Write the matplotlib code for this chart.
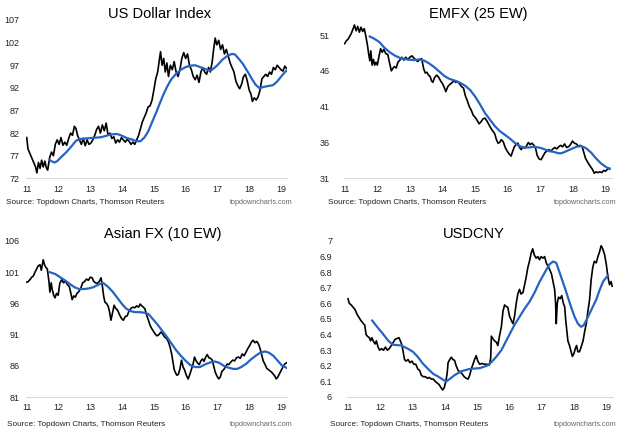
import numpy as np
import matplotlib
matplotlib.use("Agg")
import matplotlib.pyplot as plt

plt.rcParams['font.family'] = ['Liberation Sans', 'DejaVu Sans']

# ---- data (year as decimal, value) ----
dxy_px = [(11.0, 81.0), (11.04, 78.5), (11.1, 77.5), (11.16, 76.5), (11.22, 75.5), (11.28, 74.5),
          (11.32, 73.2), (11.37, 75.5), (11.42, 74.2), (11.47, 76.0), (11.52, 74.5), (11.57, 75.8),
          (11.62, 74.3), (11.66, 73.8), (11.72, 76.5), (11.78, 77.8), (11.84, 77.0), (11.9, 79.5),
          (11.96, 80.5), (12.02, 79.5), (12.08, 81.0), (12.14, 79.3), (12.2, 80.0), (12.26, 79.3),
          (12.32, 80.8), (12.38, 82.0), (12.44, 81.5), (12.5, 83.5), (12.55, 83.0), (12.6, 81.5),
          (12.66, 80.5), (12.72, 79.5), (12.78, 80.8), (12.84, 79.2), (12.9, 80.5), (12.96, 79.5),
          (13.02, 79.8), (13.08, 80.5), (13.14, 81.5), (13.2, 82.8), (13.26, 83.5), (13.32, 82.0),
          (13.38, 83.8), (13.44, 82.5), (13.5, 84.2), (13.56, 81.5), (13.62, 82.0), (13.68, 80.8),
          (13.74, 81.2), (13.8, 79.8), (13.86, 80.5), (13.92, 80.0), (13.98, 81.0), (14.04, 80.5),
          (14.1, 80.0), (14.16, 80.6), (14.22, 80.2), (14.28, 79.5), (14.34, 80.0), (14.4, 79.5),
          (14.46, 80.5), (14.52, 81.5), (14.58, 83.0), (14.64, 84.5), (14.7, 85.5), (14.76, 86.5),
          (14.82, 87.8), (14.88, 88.0), (14.94, 89.2), (15.0, 91.5), (15.06, 94.0), (15.12, 95.5),
          (15.17, 98.0), (15.21, 100.0), (15.26, 97.0), (15.31, 98.5), (15.36, 95.5), (15.41, 97.5),
          (15.46, 94.5), (15.52, 97.0), (15.58, 96.0), (15.64, 97.8), (15.7, 95.5), (15.76, 94.5),
          (15.82, 96.0), (15.88, 98.5), (15.94, 99.8), (16.0, 98.5), (16.06, 99.5), (16.12, 97.0),
          (16.18, 96.0), (16.24, 94.5), (16.3, 93.8), (16.36, 94.8), (16.42, 93.2), (16.48, 95.5),
          (16.54, 96.5), (16.6, 95.5), (16.66, 95.0), (16.72, 96.5), (16.78, 95.5), (16.84, 98.0),
          (16.88, 100.5), (16.93, 103.0), (16.98, 101.5), (17.04, 102.5), (17.1, 100.5), (17.16, 101.5),
          (17.22, 99.5), (17.28, 100.5), (17.34, 99.0), (17.4, 97.5), (17.46, 96.5), (17.52, 95.5),
          (17.58, 93.5), (17.64, 92.5), (17.7, 91.8), (17.76, 92.8), (17.82, 94.5), (17.88, 95.0),
          (17.94, 93.5), (18.0, 91.5), (18.06, 90.5), (18.1, 89.0), (18.16, 89.8), (18.22, 89.3),
          (18.28, 90.0), (18.34, 91.5), (18.4, 94.0), (18.46, 94.5), (18.52, 95.0), (18.58, 94.5),
          (18.64, 95.5), (18.7, 95.0), (18.76, 96.5), (18.82, 96.0), (18.88, 97.0), (18.94, 96.5),
          (19.0, 96.0), (19.06, 95.7), (19.12, 96.8), (19.17, 96.3)]
dxy_ma = [(11.73, 76.0), (11.8, 75.7), (11.88, 75.5), (11.96, 75.8), (12.1, 76.8), (12.25, 77.8),
          (12.4, 79.0), (12.55, 80.3), (12.68, 80.7), (12.85, 80.8), (13.0, 80.9), (13.2, 81.0),
          (13.35, 81.1), (13.5, 81.4), (13.65, 81.7), (13.85, 81.8), (14.0, 81.4), (14.15, 80.9),
          (14.3, 80.6), (14.45, 80.2), (14.58, 80.2), (14.7, 81.0), (14.82, 82.3), (14.95, 84.5),
          (15.1, 87.0), (15.2, 88.8), (15.3, 90.5), (15.42, 92.3), (15.55, 93.9), (15.7, 95.1),
          (15.85, 96.0), (16.0, 96.6), (16.15, 96.9), (16.3, 97.0), (16.45, 96.6), (16.6, 96.2),
          (16.75, 95.8), (16.85, 96.1), (17.0, 97.0), (17.15, 98.2), (17.3, 99.0), (17.45, 99.5),
          (17.55, 99.4), (17.65, 98.6), (17.8, 97.3), (17.95, 95.6), (18.1, 93.8), (18.2, 92.7),
          (18.33, 91.9), (18.45, 92.2), (18.6, 92.4), (18.75, 92.6), (18.85, 93.2), (18.95, 94.0),
          (19.05, 94.9), (19.17, 95.8)]

emfx_px = [(11.0, 49.8), (11.05, 50.2), (11.1, 50.4), (11.15, 50.8), (11.2, 51.2), (11.25, 51.8),
           (11.3, 52.4), (11.35, 51.6), (11.4, 52.2), (11.45, 51.4), (11.5, 52.1), (11.55, 51.5),
           (11.6, 51.9), (11.65, 50.8), (11.7, 49.5), (11.73, 48.5), (11.77, 47.4), (11.8, 48.8),
           (11.84, 46.8), (11.88, 47.6), (11.92, 46.8), (11.96, 47.2), (12.0, 46.8), (12.05, 48.0),
           (12.1, 49.1), (12.15, 48.6), (12.2, 49.0), (12.26, 48.4), (12.32, 48.3), (12.38, 47.0),
           (12.43, 46.0), (12.47, 46.3), (12.52, 46.6), (12.58, 46.4), (12.63, 47.2), (12.69, 47.5),
           (12.75, 47.9), (12.81, 47.5), (12.87, 47.9), (12.93, 47.6), (13.0, 47.9), (13.06, 48.1),
           (13.12, 47.8), (13.18, 47.5), (13.24, 47.3), (13.3, 47.6), (13.36, 47.7), (13.42, 46.3),
           (13.47, 45.7), (13.52, 45.8), (13.57, 45.4), (13.62, 45.2), (13.66, 44.6), (13.7, 44.4),
           (13.76, 45.1), (13.82, 45.4), (13.88, 45.1), (13.94, 44.6), (14.0, 44.2), (14.06, 43.6),
           (14.1, 43.1), (14.16, 43.8), (14.22, 44.1), (14.28, 44.3), (14.34, 44.6), (14.4, 44.4),
           (14.46, 44.5), (14.52, 44.2), (14.58, 43.8), (14.64, 43.6), (14.7, 42.5), (14.76, 41.8),
           (14.82, 41.0), (14.88, 40.5), (14.94, 39.8), (15.0, 39.5), (15.06, 39.1), (15.12, 38.6),
           (15.18, 38.9), (15.24, 39.3), (15.3, 39.4), (15.36, 39.0), (15.42, 38.5), (15.48, 38.0),
           (15.54, 37.6), (15.6, 37.2), (15.65, 36.4), (15.7, 35.9), (15.75, 36.0), (15.8, 36.4),
           (15.86, 36.1), (15.92, 35.3), (15.98, 34.8), (16.04, 34.4), (16.1, 34.1), (16.15, 34.8),
           (16.2, 35.4), (16.26, 35.8), (16.31, 35.9), (16.36, 35.3), (16.41, 35.0), (16.46, 35.4),
           (16.52, 35.2), (16.57, 35.5), (16.63, 36.0), (16.68, 35.7), (16.74, 35.9), (16.8, 35.6),
           (16.85, 35.2), (16.9, 34.2), (16.96, 33.7), (17.02, 33.6), (17.08, 34.1), (17.14, 34.6),
           (17.2, 34.8), (17.26, 35.0), (17.32, 34.8), (17.38, 35.1), (17.44, 35.3), (17.5, 35.1),
           (17.56, 35.4), (17.62, 35.6), (17.68, 35.4), (17.74, 35.8), (17.8, 35.3), (17.86, 35.4),
           (17.92, 35.7), (17.98, 36.2), (18.04, 35.9), (18.1, 35.8), (18.16, 35.5), (18.22, 35.6),
           (18.28, 35.4), (18.33, 34.6), (18.38, 33.8), (18.43, 33.4), (18.48, 33.0), (18.54, 32.6),
           (18.6, 32.2), (18.65, 31.7), (18.7, 31.9), (18.76, 31.8), (18.82, 31.9), (18.88, 31.8),
           (18.94, 32.1), (19.0, 32.0), (19.06, 32.3), (19.12, 32.4)]
emfx_ma = [(11.77, 50.8), (11.9, 50.5), (12.07, 50.0), (12.2, 49.3), (12.38, 48.6), (12.55, 48.1),
           (12.7, 47.8), (12.9, 47.6), (13.1, 47.5), (13.3, 47.6), (13.45, 47.4), (13.6, 47.0),
           (13.75, 46.5), (13.9, 45.9), (14.05, 45.3), (14.2, 44.9), (14.4, 44.6), (14.55, 44.3),
           (14.7, 43.9), (14.85, 43.3), (15.0, 42.4), (15.15, 41.3), (15.3, 40.1), (15.45, 39.2),
           (15.6, 38.3), (15.75, 37.6), (15.9, 37.1), (16.05, 36.6), (16.2, 36.0), (16.35, 35.5),
           (16.5, 35.3), (16.65, 35.3), (16.8, 35.4), (16.95, 35.3), (17.1, 35.1), (17.25, 34.8),
           (17.4, 34.7), (17.55, 34.5), (17.65, 34.5), (17.8, 34.8), (17.95, 35.1), (18.1, 35.4),
           (18.25, 35.5), (18.4, 35.2), (18.55, 34.6), (18.7, 33.8), (18.85, 33.1), (19.0, 32.6),
           (19.12, 32.3)]

asia_px = [(11.0, 99.4), (11.05, 99.5), (11.1, 99.8), (11.16, 100.2), (11.21, 100.4), (11.26, 101.0),
           (11.31, 101.5), (11.36, 102.0), (11.42, 102.2), (11.46, 101.3), (11.52, 103.0), (11.56, 102.2),
           (11.6, 101.8), (11.65, 101.5), (11.7, 99.5), (11.73, 97.8), (11.77, 99.3), (11.8, 98.3),
           (11.85, 97.3), (11.89, 96.9), (11.94, 97.6), (11.99, 97.3), (12.04, 99.2), (12.1, 99.8),
           (12.16, 99.3), (12.22, 99.6), (12.28, 99.0), (12.34, 98.7), (12.39, 97.6), (12.43, 96.6),
           (12.48, 97.2), (12.53, 97.0), (12.58, 97.6), (12.64, 97.9), (12.7, 98.4), (12.76, 99.3),
           (12.82, 99.5), (12.88, 99.9), (12.94, 99.7), (13.0, 100.2), (13.06, 100.1), (13.1, 99.6),
           (13.16, 99.3), (13.22, 99.2), (13.28, 99.5), (13.34, 100.1), (13.38, 98.8), (13.42, 97.2),
           (13.46, 96.2), (13.51, 96.0), (13.56, 95.6), (13.6, 94.8), (13.65, 93.3), (13.7, 94.5),
           (13.75, 95.7), (13.8, 95.2), (13.86, 94.9), (13.92, 94.2), (13.98, 93.6), (14.04, 93.3),
           (14.1, 93.9), (14.16, 94.0), (14.22, 94.8), (14.28, 95.2), (14.34, 95.4), (14.4, 95.3),
           (14.46, 95.6), (14.52, 95.4), (14.57, 95.9), (14.62, 95.6), (14.67, 95.4), (14.72, 95.1),
           (14.78, 94.0), (14.83, 93.3), (14.88, 92.5), (14.93, 92.0), (14.98, 91.6), (15.04, 91.1),
           (15.1, 90.8), (15.16, 91.0), (15.22, 91.4), (15.28, 91.1), (15.34, 90.6), (15.4, 90.4),
           (15.46, 89.8), (15.51, 89.0), (15.56, 87.9), (15.6, 86.6), (15.64, 85.4), (15.68, 84.9),
           (15.72, 84.5), (15.77, 84.6), (15.82, 85.5), (15.87, 86.9), (15.92, 85.8), (15.97, 85.3),
           (16.02, 84.5), (16.08, 83.9), (16.13, 84.6), (16.18, 85.4), (16.23, 86.2), (16.28, 87.4),
           (16.33, 86.8), (16.38, 86.4), (16.43, 86.2), (16.48, 86.8), (16.53, 87.1), (16.58, 86.7),
           (16.63, 87.4), (16.68, 87.8), (16.73, 87.3), (16.78, 87.2), (16.84, 86.9), (16.88, 86.0),
           (16.93, 85.0), (16.98, 84.4), (17.04, 83.9), (17.09, 84.2), (17.14, 85.1), (17.2, 85.4),
           (17.26, 85.9), (17.31, 86.3), (17.36, 86.2), (17.42, 86.6), (17.48, 86.9), (17.54, 86.8),
           (17.6, 87.3), (17.66, 87.4), (17.72, 87.2), (17.78, 87.9), (17.84, 87.6), (17.9, 88.2),
           (17.96, 88.8), (18.02, 89.3), (18.07, 89.8), (18.12, 90.1), (18.18, 89.7), (18.24, 89.9),
           (18.3, 89.4), (18.35, 88.6), (18.4, 87.6), (18.44, 86.8), (18.5, 86.2), (18.55, 85.6),
           (18.6, 85.4), (18.65, 85.2), (18.7, 85.0), (18.75, 84.7), (18.8, 84.4), (18.85, 83.9),
           (18.9, 84.2), (18.96, 84.8), (19.02, 85.4), (19.07, 85.9), (19.12, 86.3), (19.18, 86.5)]
asia_ma = [(11.73, 101.0), (11.9, 100.7), (12.05, 100.2), (12.2, 99.7), (12.36, 99.1), (12.5, 98.6),
           (12.65, 98.3), (12.8, 98.3), (12.95, 98.4), (13.1, 98.6), (13.25, 99.0), (13.4, 99.3),
           (13.55, 98.7), (13.7, 97.9), (13.85, 96.9), (14.0, 95.9), (14.12, 95.2), (14.25, 94.8),
           (14.4, 94.6), (14.56, 94.6), (14.7, 94.5), (14.83, 94.3), (14.95, 93.6), (15.1, 92.7),
           (15.25, 91.7), (15.4, 90.7), (15.55, 89.6), (15.7, 88.5), (15.85, 87.6), (16.0, 86.8),
           (16.15, 86.1), (16.3, 85.8), (16.45, 85.8), (16.6, 86.2), (16.75, 86.5), (16.9, 86.7),
           (17.05, 86.5), (17.2, 86.0), (17.35, 85.7), (17.5, 85.5), (17.62, 85.5), (17.75, 85.8),
           (17.9, 86.3), (18.05, 87.0), (18.2, 87.6), (18.35, 88.1), (18.5, 88.3), (18.62, 88.1),
           (18.76, 87.6), (18.9, 86.8), (19.02, 86.1), (19.2, 85.6)]

cny_px = [(11.0, 6.63), (11.04, 6.6), (11.1, 6.59), (11.16, 6.575), (11.22, 6.56), (11.28, 6.53),
          (11.34, 6.51), (11.4, 6.49), (11.46, 6.475), (11.52, 6.46), (11.56, 6.4), (11.6, 6.39),
          (11.66, 6.38), (11.7, 6.36), (11.74, 6.38), (11.78, 6.36), (11.84, 6.34), (11.88, 6.36),
          (11.93, 6.32), (11.98, 6.3), (12.04, 6.31), (12.1, 6.3), (12.16, 6.32), (12.22, 6.3),
          (12.28, 6.31), (12.34, 6.33), (12.4, 6.35), (12.46, 6.37), (12.52, 6.375), (12.58, 6.38),
          (12.62, 6.36), (12.66, 6.34), (12.7, 6.3), (12.75, 6.24), (12.8, 6.23), (12.86, 6.24),
          (12.92, 6.22), (12.98, 6.23), (13.04, 6.21), (13.1, 6.21), (13.16, 6.18), (13.22, 6.17),
          (13.27, 6.14), (13.33, 6.13), (13.4, 6.13), (13.46, 6.12), (13.52, 6.125), (13.58, 6.115),
          (13.64, 6.115), (13.7, 6.1), (13.76, 6.09), (13.82, 6.08), (13.88, 6.06), (13.93, 6.045),
          (13.98, 6.06), (14.03, 6.1), (14.07, 6.15), (14.1, 6.22), (14.15, 6.24), (14.2, 6.255),
          (14.25, 6.24), (14.3, 6.235), (14.35, 6.2), (14.41, 6.17), (14.47, 6.16), (14.53, 6.15),
          (14.6, 6.13), (14.66, 6.12), (14.72, 6.115), (14.77, 6.14), (14.82, 6.18), (14.87, 6.21),
          (14.92, 6.24), (14.97, 6.265), (15.02, 6.23), (15.08, 6.21), (15.15, 6.215), (15.22, 6.21),
          (15.3, 6.21), (15.38, 6.205), (15.42, 6.25), (15.44, 6.39), (15.5, 6.37), (15.54, 6.36),
          (15.6, 6.35), (15.64, 6.33), (15.7, 6.4), (15.75, 6.45), (15.8, 6.55), (15.85, 6.59),
          (15.9, 6.58), (15.95, 6.575), (16.0, 6.52), (16.06, 6.49), (16.11, 6.47), (16.16, 6.52),
          (16.21, 6.6), (16.26, 6.66), (16.31, 6.69), (16.36, 6.66), (16.42, 6.67), (16.47, 6.72),
          (16.52, 6.77), (16.57, 6.83), (16.62, 6.87), (16.67, 6.92), (16.72, 6.95), (16.77, 6.91),
          (16.83, 6.89), (16.88, 6.9), (16.93, 6.88), (16.98, 6.9), (17.04, 6.89), (17.09, 6.9),
          (17.14, 6.86), (17.19, 6.84), (17.24, 6.82), (17.3, 6.79), (17.35, 6.74), (17.4, 6.69),
          (17.43, 6.6), (17.45, 6.47), (17.48, 6.6), (17.52, 6.64), (17.57, 6.63), (17.62, 6.65),
          (17.67, 6.6), (17.71, 6.58), (17.74, 6.5), (17.77, 6.44), (17.81, 6.36), (17.86, 6.33),
          (17.91, 6.29), (17.95, 6.26), (18.0, 6.28), (18.04, 6.31), (18.08, 6.33), (18.12, 6.29),
          (18.17, 6.29), (18.22, 6.32), (18.28, 6.36), (18.33, 6.42), (18.38, 6.47), (18.43, 6.55),
          (18.48, 6.62), (18.53, 6.75), (18.58, 6.83), (18.63, 6.87), (18.69, 6.86), (18.74, 6.9),
          (18.79, 6.93), (18.84, 6.97), (18.89, 6.95), (18.95, 6.91), (19.0, 6.85), (19.05, 6.77),
          (19.1, 6.72), (19.15, 6.74), (19.18, 6.71)]
cny_ma = [(11.75, 6.49), (11.9, 6.45), (12.08, 6.405), (12.25, 6.36), (12.39, 6.335), (12.5, 6.333),
          (12.65, 6.33), (12.85, 6.31), (13.01, 6.29), (13.15, 6.26), (13.32, 6.214), (13.48, 6.18),
          (13.63, 6.15), (13.8, 6.13), (13.95, 6.11), (14.04, 6.1), (14.15, 6.115), (14.3, 6.14),
          (14.51, 6.165), (14.77, 6.18), (15.08, 6.185), (15.3, 6.2), (15.45, 6.225), (15.6, 6.26),
          (15.75, 6.3), (15.9, 6.36), (16.0, 6.4), (16.15, 6.46), (16.31, 6.513), (16.45, 6.56),
          (16.62, 6.61), (16.78, 6.67), (16.93, 6.737), (17.1, 6.8), (17.24, 6.85), (17.35, 6.868),
          (17.45, 6.86), (17.6, 6.77), (17.7, 6.71), (17.81, 6.64), (17.92, 6.57), (18.02, 6.513),
          (18.12, 6.47), (18.22, 6.45), (18.3, 6.46), (18.4, 6.5), (18.58, 6.577), (18.7, 6.63),
          (18.79, 6.684), (18.9, 6.74), (19.05, 6.78)]

titles = ["US Dollar Index", "EMFX (25 EW)", "Asian FX (10 EW)", "USDCNY"]
yticks = [[72, 77, 82, 87, 92, 97, 102, 107],
          [31, 36, 41, 46, 51],
          [81, 86, 91, 96, 101, 106],
          [6.0, 6.1, 6.2, 6.3, 6.4, 6.5, 6.6, 6.7, 6.8, 6.9, 7.0]]
xticks = list(range(11, 20))
source = "Source: Topdown Charts, Thomson Reuters"
site = "topdowncharts.com"

W, H = 626, 434
fig = plt.figure(figsize=(W / 100, H / 100), dpi=100)

# pixel layout: (x of "11", x of "19", top px, bottom px, ymin, ymax, ytick pad px)
layout = [
    (26.7, 281.0, 20, 178.3, 72, 107, 6),
    (344.7, 605.7, 20, 178.3, 31, 53.1, 14),
    (26.7, 281.0, 241, 397, 81, 106, 6),
    (348.0, 606.3, 241, 397, 6.0, 7.0, 15),
]
title_pos = [(160, 14), (478, 14), (163, 234), (474, 234)]
src_pos = [(6, 292.7, 203), (328, 616.3, 203), (6.7, 292.7, 424), (329.7, 616.3, 424)]

series = [(dxy_px, dxy_ma), (emfx_px, emfx_ma), (asia_px, asia_ma), (cny_px, cny_ma)]
blue = '#2664C2'

for i, (px, ma) in enumerate(series):
    x11, x19, top, bot, y0, y1, ypad = layout[i]
    ppy = (x19 - x11) / 8
    left = x11 - 0.03 * ppy
    right = x11 + 8.2 * ppy
    ax = fig.add_axes([left / W, 1 - bot / H, (right - left) / W, (bot - top) / H])
    t, v = np.array(px).T
    ax.plot(t, v, color='black', lw=1.2)
    t, v = np.array(ma).T
    ax.plot(t, v, color=blue, lw=1.6)
    ax.set_xlim(10.97, 19.2)
    ax.set_ylim(y0, y1)
    ax.set_xticks(xticks)
    ax.set_xticklabels([str(x) for x in xticks])
    ax.set_yticks(yticks[i])
    if i == 3:
        ax.set_yticklabels([f"{y:g}" for y in yticks[i]])
    for s in ['top', 'right', 'left']:
        ax.spines[s].set_visible(False)
    ax.spines['bottom'].set_color('#d9d9d9')
    ax.spines['bottom'].set_linewidth(0.8)
    ax.tick_params(axis='both', length=0, labelsize=6.5, colors='#222222')
    ax.tick_params(axis='x', pad=4.5)
    ax.tick_params(axis='y', pad=ypad * 0.72)

    tx, ty = title_pos[i]
    fig.text(tx / W, 1 - ty / H, titles[i], ha='center', va='center', fontsize=10.5)
    sl, sr, sy = src_pos[i]
    fig.text(sl / W, 1 - sy / H, source, ha='left', va='center', fontsize=5.9, color='#222222')
    fig.text(sr / W, 1 - sy / H, site, ha='right', va='center', fontsize=5.2, color='#666666')

fig.savefig("out.png", dpi=100)
